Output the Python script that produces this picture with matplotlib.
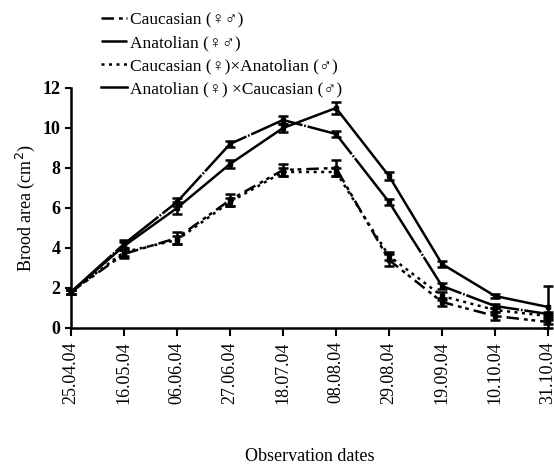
import matplotlib
matplotlib.use("Agg")
import matplotlib.pyplot as plt
import numpy as np
from matplotlib.lines import Line2D

dates = ["25.04.04", "16.05.04", "06.06.04", "27.06.04", "18.07.04",
         "08.08.04", "29.08.04", "19.09.04", "10.10.04", "31.10.04"]

caucasian = [1.8, 3.7, 4.5, 6.4, 7.9, 8.0, 3.4, 1.3, 0.6, 0.3]
caucasian_err = [0.1, 0.2, 0.3, 0.3, 0.3, 0.4, 0.3, 0.2, 0.2, 0.1]

anatolian = [1.8, 4.2, 6.3, 9.2, 10.4, 9.7, 6.3, 2.1, 1.1, 0.7]
anatolian_err = [0.1, 0.2, 0.2, 0.15, 0.2, 0.15, 0.15, 0.15, 0.1, 0.1]

cauc_x_anat = [1.8, 3.8, 4.4, 6.3, 7.8, 7.8, 3.6, 1.6, 0.9, 0.6]
cauc_x_anat_err = [0.1, 0.2, 0.2, 0.2, 0.2, 0.2, 0.2, 0.2, 0.1, 0.1]

anat_x_cauc = [1.8, 4.1, 6.0, 8.2, 10.0, 11.0, 7.6, 3.2, 1.6, 1.05]
anat_x_cauc_err = [0.1, 0.2, 0.3, 0.2, 0.2, 0.3, 0.2, 0.15, 0.1, 1.05]

labels = ["Caucasian (\u2640\u2642)", "Anatolian (\u2640\u2642)",
          "Caucasian (\u2640)\u00d7Anatolian (\u2642)",
          "Anatolian (\u2640) \u00d7Caucasian (\u2642)"]

plt.rcParams['font.family'] = ['Liberation Serif', 'DejaVu Serif', 'DejaVu Sans']

fig = plt.figure(figsize=(5.54, 4.66), dpi=100)
ax = fig.add_axes([71/554, 1-328/466, (548-71)/554, (328-88)/466])

x = np.arange(len(dates))
styles = [(0, (5, 2, 1.5, 1.5, 1.5, 2)),
          (0, (22, 0.7, 0.7, 0.7)),
          (0, (1.2, 1.8)),
          '-']
series = [(caucasian, caucasian_err), (anatolian, anatolian_err),
          (cauc_x_anat, cauc_x_anat_err), (anat_x_cauc, anat_x_cauc_err)]

for (vals, err), ls, lab in zip(series, styles, labels):
    ax.errorbar(x, vals, yerr=err, color='black', linestyle=ls, linewidth=1.8,
                elinewidth=1.8, capsize=3.5, capthick=1.8, label=lab,
                marker='s', markersize=3, clip_on=False)

ax.set_xlim(0, len(dates) - 1)
ax.set_ylim(0, 12)
ax.set_yticks([0, 2, 4, 6, 8, 10, 12])
ax.set_xticks(x)
ax.set_xticklabels(dates, rotation=90, fontsize=13)
ax.tick_params(axis='y', labelsize=13, width=1.5, length=4)
ax.tick_params(axis='x', width=1.5, length=6)
for lab in ax.get_yticklabels():
    lab.set_fontweight('bold')
for s in ['top', 'right']:
    ax.spines[s].set_visible(False)
for s in ['left', 'bottom']:
    ax.spines[s].set_linewidth(1.8)
ax.set_ylabel("Brood area (cm$^2$)", fontsize=13)
ax.set_xlabel("Observation dates", fontsize=13, labelpad=32)

leg_handles = [Line2D([0], [0], color='black', linestyle=ls, linewidth=1.8) for ls in styles]
fig.legend(leg_handles, labels, loc='upper left', bbox_to_anchor=(94/554, 1 - 5/466),
           frameon=False, fontsize=12.5, handlelength=1.5, handletextpad=0.15,
           labelspacing=0.4, borderaxespad=0)

fig.savefig("out.png", dpi=100)
